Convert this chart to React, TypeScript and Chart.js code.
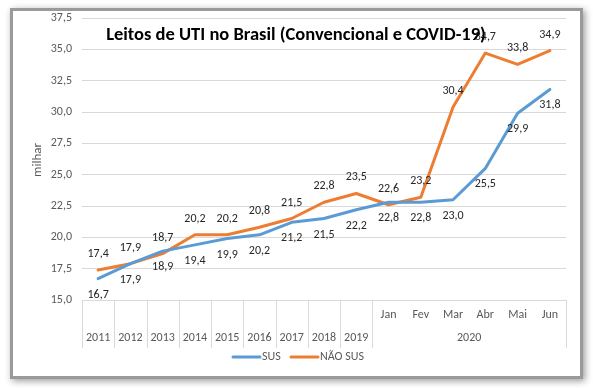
import React, { useEffect, useRef } from "react";
import { Chart, registerables } from "chart.js";

Chart.register(...registerables);

const yearCats = ["2011", "2012", "2013", "2014", "2015", "2016", "2017", "2018", "2019"];
const monthCats = ["Jan", "Fev", "Mar", "Abr", "Mai", "Jun"];
const monthGroup = "2020";
const categories = [...yearCats, ...monthCats];

const susValues = [16.7, 17.9, 18.9, 19.4, 19.9, 20.2, 21.2, 21.5, 22.2, 22.8, 22.8, 23.0, 25.5, 29.9, 31.8];
const naoSusValues = [17.4, 17.9, 18.7, 20.2, 20.2, 20.8, 21.5, 22.8, 23.5, 22.6, 23.2, 30.4, 34.7, 33.8, 34.9];

const seriesNames = ["SUS", "NÃO SUS"];
const seriesColors = ["#5B9BD5", "#ED7D31"];
const titleText = "Leitos de UTI no Brasil (Convencional e COVID-19)";
const yTitle = "milhar";
const yMin = 15;
const yMax = 37.5;
const yStep = 2.5;

const FONT = "Carlito, Lato, 'Open Sans', sans-serif";
const fmt = (v: number) => v.toFixed(1).replace(".", ",");

const customPlugin = {
  id: "custom",
  beforeDraw(chart: any) {
    const ctx = chart.ctx;
    ctx.save();
    ctx.fillStyle = "#ffffff";
    ctx.fillRect(0, 0, chart.width, chart.height);
    ctx.shadowColor = "rgba(0,0,0,0.4)";
    ctx.shadowBlur = 7;
    ctx.shadowOffsetX = 2;
    ctx.shadowOffsetY = 2;
    ctx.fillStyle = "#9a9a9a";
    ctx.fillRect(10, 8, 573, 371);
    ctx.shadowColor = "transparent";
    ctx.shadowBlur = 0;
    ctx.shadowOffsetX = 0;
    ctx.shadowOffsetY = 0;
    ctx.fillStyle = "#ffffff";
    ctx.fillRect(13, 11, 567, 365);
    ctx.restore();
  },
  afterDraw(chart: any) {
    const ctx = chart.ctx;
    const area = chart.chartArea;
    const xs = chart.scales.x;
    const n = categories.length;
    const cw = (area.right - area.left) / n;
    ctx.save();

    // x-axis separators
    ctx.strokeStyle = "#d9d9d9";
    ctx.lineWidth = 1;
    const sepBottom = area.bottom + 48;
    const bounds: number[] = [];
    for (let i = 0; i <= yearCats.length; i++) bounds.push(xs.getPixelForValue(i) - cw / 2);
    bounds.push(area.right);
    bounds.forEach((bx) => {
      const x = Math.round(bx) + 0.5;
      ctx.beginPath();
      ctx.moveTo(x, area.bottom);
      ctx.lineTo(x, sepBottom);
      ctx.stroke();
    });

    // x labels
    ctx.fillStyle = "#595959";
    ctx.font = `12px ${FONT}`;
    ctx.textAlign = "center";
    ctx.textBaseline = "middle";
    yearCats.forEach((c, i) => {
      ctx.fillText(c, xs.getPixelForValue(i), area.bottom + 38);
    });
    monthCats.forEach((c, j) => {
      ctx.fillText(c, xs.getPixelForValue(yearCats.length + j), area.bottom + 15);
    });
    const gx0 = xs.getPixelForValue(yearCats.length) - cw / 2;
    ctx.fillText(monthGroup, (gx0 + area.right) / 2, area.bottom + 38);

    // y title
    ctx.save();
    ctx.font = `13px ${FONT}`;
    ctx.translate(38, 160);
    ctx.rotate(-Math.PI / 2);
    ctx.fillText(yTitle, 0, 0);
    ctx.restore();

    // data labels
    ctx.fillStyle = "#262626";
    ctx.font = `12px ${FONT}`;
    chart.data.datasets.forEach((ds: any, di: number) => {
      const meta = chart.getDatasetMeta(di);
      meta.data.forEach((pt: any, i: number) => {
        const off = di === 0 ? 16 : -16;
        ctx.fillText(fmt(ds.data[i]), pt.x, pt.y + off);
      });
    });

    // title
    ctx.fillStyle = "#000000";
    ctx.font = `bold 18.5px ${FONT}`;
    ctx.fillText(titleText, 296, 35);

    // legend
    const ly = 357;
    const items = [
      { x: 233, name: seriesNames[0], color: seriesColors[0] },
      { x: 291, name: seriesNames[1], color: seriesColors[1] },
    ];
    ctx.font = `12px ${FONT}`;
    ctx.textAlign = "left";
    items.forEach((it) => {
      ctx.strokeStyle = it.color;
      ctx.lineWidth = 3;
      ctx.lineCap = "round";
      ctx.beginPath();
      ctx.moveTo(it.x, ly);
      ctx.lineTo(it.x + 27, ly);
      ctx.stroke();
      ctx.fillStyle = "#595959";
      ctx.fillText(it.name, it.x + 29, ly);
    });
    ctx.restore();
  },
};

export default function App() {
  const ref = useRef<HTMLCanvasElement>(null);
  useEffect(() => {
    if (!ref.current) return;
    const chart = new Chart(ref.current, {
      type: "line",
      data: {
        labels: categories,
        datasets: [
          {
            label: seriesNames[0],
            data: susValues,
            borderColor: seriesColors[0],
            backgroundColor: seriesColors[0],
            borderWidth: 3,
            pointRadius: 0,
            tension: 0,
            borderJoinStyle: "round",
            borderCapStyle: "round",
          },
          {
            label: seriesNames[1],
            data: naoSusValues,
            borderColor: seriesColors[1],
            backgroundColor: seriesColors[1],
            borderWidth: 3,
            pointRadius: 0,
            tension: 0,
            borderJoinStyle: "round",
            borderCapStyle: "round",
          },
        ],
      },
      options: {
        responsive: false,
        animation: false,
        layout: { padding: { left: 12, right: 27, top: 18, bottom: 40 } },
        plugins: {
          legend: { display: false },
          title: { display: false },
          tooltip: { enabled: false },
        },
        scales: {
          x: {
            offset: true,
            grid: { display: false },
            border: { display: false },
            ticks: { display: false },
            afterFit: (s: any) => {
              s.height = 48;
            },
          },
          y: {
            min: yMin,
            max: yMax,
            border: { display: false },
            grid: { color: "#d9d9d9", drawTicks: false },
            ticks: {
              stepSize: yStep,
              padding: 10,
              color: "#595959",
              font: { family: FONT, size: 12 },
              callback: (v: any) => fmt(Number(v)),
            },
            afterFit: (s: any) => {
              s.width = 70;
            },
          },
        },
      },
      plugins: [customPlugin],
    });
    return () => chart.destroy();
  }, []);
  return (
    <div style={{ position: "fixed", left: 0, top: 0, width: 593, height: 388 }}>
      <canvas ref={ref} width={593} height={388} style={{ width: 593, height: 388, display: "block" }} />
    </div>
  );
}
